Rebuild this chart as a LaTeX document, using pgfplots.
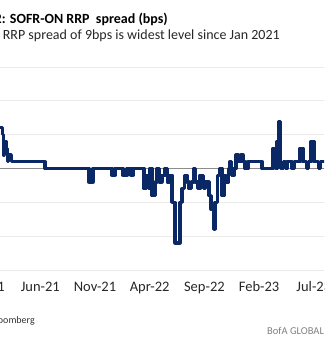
\documentclass[border=0pt]{standalone}
\usepackage{fontspec}
\setmainfont{Carlito}
\usepackage{pgfplots}
\pgfplotsset{compat=1.18}
\definecolor{navy}{HTML}{0A2766}
\definecolor{gridc}{HTML}{EBEBEB}
\definecolor{zeroc}{HTML}{8C8C8C}
\begin{document}
\begin{tikzpicture}[x=1pt,y=1pt]
\useasboundingbox (0,0) rectangle (324,345);
\clip (0,0) rectangle (324,345);
\begin{axis}[at={(-36.28pt,75pt)}, anchor=south west, scale only axis,
  width=382.9pt, height=203pt, xmin=-2, xmax=33, ymin=-15, ymax=15,
  axis line style={draw=none}, major tick length=0pt,
  ytick={-15,-10,-5,0,5,10,15}, yticklabels={},
  ymajorgrids, grid style={color=gridc, line width=0.9pt},
  xtick={0,5,10,15,20,25,30},
  xticklabels={Jan-21,Jun-21,Nov-21,Apr-22,Sep-22,Feb-23,Jul-23},
  xticklabel style={anchor=base, yshift=-22pt, font=\fontsize{14.5}{14.5}\selectfont, text=black!85},
  clip=true]
\addplot[zeroc, line width=0.9pt] coordinates {(-2,0) (33,0)};
\addplot[navy, line width=3.2pt, const plot, line join=round] coordinates {
(-2,9) (0,8) (0.4,9) (0.8,7) (1.2,6) (1.45,6) (1.55,5) (1.62,2) (1.72,4) (1.86,3)
(1.98,1) (2.08,2) (2.35,1) (5.43,0) (9.45,-2) (9.82,0) (11.55,-1) (11.83,0)
(12.56,-1) (12.93,0) (13.29,-1) (13.47,0) (14.48,-3) (14.7,-1) (14.9,-3) (15.03,0)
(15.21,-4) (15.5,-2) (15.67,0) (15.9,-2) (16.12,-1) (16.4,0) (16.6,-2) (16.8,-1)
(17.04,-5) (17.31,-11) (17.77,-5) (17.95,-3) (18.2,-1) (18.41,-2) (18.6,-3) (18.8,-2)
(19.05,0) (19.15,-2) (19.4,-3) (19.6,-1) (19.9,-3) (20.1,-2) (20.42,-4) (20.6,-6)
(20.88,-9) (20.97,-5) (21.2,-1) (21.4,0) (21.61,-4) (21.79,-1) (22.0,-2) (22.2,0)
(22.34,1) (22.5,-1) (22.71,0) (22.89,2) (23.07,1) (23.35,2) (23.53,1) (23.71,0)
(23.99,1) (25.27,0) (26.27,3) (26.5,0) (26.64,4) (26.8,7) (26.95,0) (27.2,1)
(27.4,0) (27.55,1) (28.0,0) (28.2,1) (28.74,3) (29.01,1) (29.3,0) (29.5,1)
(29.74,4) (30.02,1) (30.4,0) (30.6,1) (33,1)};
\end{axis}
\node[anchor=base east, inner sep=0pt, font=\bfseries\fontsize{14}{14}\selectfont] at (168,321.7) {Exhibit 2: SOFR-ON RRP\ \ spread (bps)};
\node[anchor=base east, inner sep=0pt, font=\fontsize{14}{14}\selectfont, text=black!85] at (280,305) {SOFR-ON RRP spread of 9bps is widest level since Jan 2021};
\node[anchor=base east, inner sep=0pt, font=\fontsize{10}{10}\selectfont, text=black!80] at (35,21) {Source: BofA Global Research, Bloomberg};
\node[anchor=base west, inner sep=0pt, font=\fontsize{10.5}{10.5}\selectfont, text=black!50] at (267,10) {BofA GLOBAL RESEARCH};
\end{tikzpicture}
\end{document}
